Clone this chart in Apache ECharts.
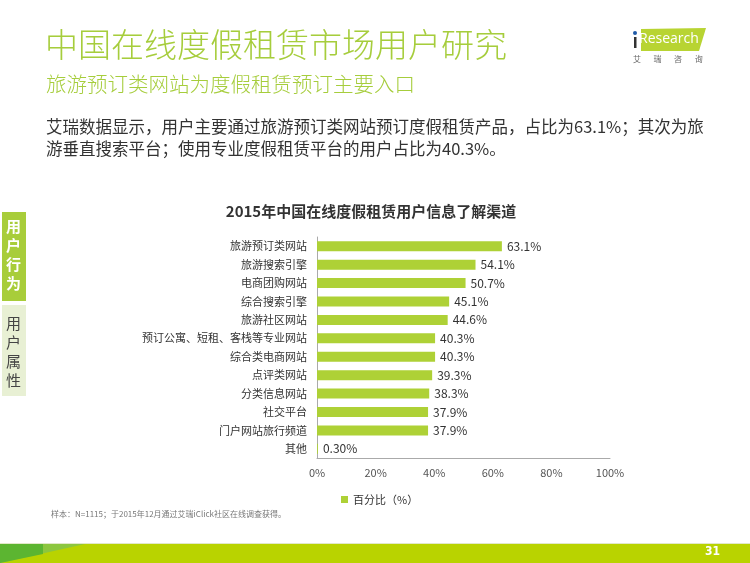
<!DOCTYPE html>
<html>
<head>
<meta charset="utf-8">
<script src="https://cdn.jsdelivr.net/npm/echarts@6/dist/echarts.min.js"></script>
<style>html,body{margin:0;padding:0;background:#fff}#c{width:750px;height:563px}</style>
</head>
<body>
<div id="c"></div>
<script>
var categories = ['旅游预订类网站','旅游搜索引擎','电商团购网站','综合搜索引擎','旅游社区网站','预订公寓、短租、客栈等专业网站','综合类电商网站','点评类网站','分类信息网站','社交平台','门户网站旅行频道','其他'];
var values = [63.1, 54.1, 50.7, 45.1, 44.6, 40.3, 40.3, 39.3, 38.3, 37.9, 37.9, 0.3];
var seriesName = '百分比（%）';
var xTicks = [0, 20, 40, 60, 80, 100];

var FONT = '"Noto Sans CJK SC","Microsoft YaHei",sans-serif';
var GREEN = '#aed136';
var chart = echarts.init(document.getElementById('c'));
chart.setOption({
  backgroundColor: '#fff',
  animation: false,
  textStyle: {fontFamily: FONT},
  title: {
    text: '2015年中国在线度假租赁用户信息了解渠道',
    left: 366, top: 199, textAlign: 'center',
    textStyle: {fontSize: 15, fontWeight: 'bold', color: '#333', fontFamily: FONT}
  },
  legend: {
    data: [seriesName], left: 336, top: 489,
    itemWidth: 7, itemHeight: 7, itemGap: 4, icon: 'rect',
    textStyle: {fontSize: 11, color: '#333', fontFamily: FONT}
  },
  grid: {left: 317, right: 140, top: 237, bottom: 105, containLabel: false},
  xAxis: {
    type: 'value', min: xTicks[0], max: xTicks[xTicks.length - 1], interval: 20,
    axisLine: {show: true, lineStyle: {color: '#aaa'}},
    axisTick: {show: false},
    splitLine: {show: false},
    axisLabel: {formatter: '{value}%', fontSize: 11, color: '#555', margin: 9, fontFamily: FONT}
  },
  yAxis: {
    type: 'category', data: categories, inverse: true,
    axisLine: {show: true, lineStyle: {color: '#aaa'}},
    axisTick: {show: false},
    axisLabel: {fontSize: 11, color: '#333', margin: 10, fontFamily: FONT}
  },
  series: [{
    name: seriesName, type: 'bar', data: values, barWidth: 10,
    itemStyle: {color: GREEN},
    label: {
      show: true, position: 'right', distance: 5, fontSize: 12, color: '#333', fontFamily: FONT,
      formatter: function (p) { return (p.value < 1 ? p.value.toFixed(2) : p.value.toFixed(1)) + '%'; }
    }
  }],
  graphic: [
    {type: 'text', left: 45, top: 28, style: {text: '中国在线度假租赁市场用户研究', fontSize: 33, fontWeight: 300, fill: '#a6cd3c', fontFamily: FONT}},
    {type: 'text', left: 46, top: 74, style: {text: '旅游预订类网站为度假租赁预订主要入口', fontSize: 20.5, fontWeight: 300, fill: '#a6cd3c', fontFamily: FONT}},
    {type: 'text', left: 46, top: 116, style: {text: '艾瑞数据显示，用户主要通过旅游预订类网站预订度假租赁产品，占比为63.1%；其次为旅\n游垂直搜索平台；使用专业度假租赁平台的用户占比为40.3%。', fontSize: 16.5, lineHeight: 22, fill: '#333', fontFamily: FONT}},
    // logo
    {type: 'polygon', shape: {points: [[641, 29], [706, 28], [699, 51], [641, 51]]}, style: {fill: '#b8d432'}},
    {type: 'circle', shape: {cx: 635, cy: 33, r: 2}, style: {fill: '#1f5aa8'}},
    {type: 'rect', shape: {x: 634, y: 37, width: 2.5, height: 11}, style: {fill: '#333'}},
    {type: 'text', left: 639, top: 32, style: {text: 'Research', fontSize: 14, fill: '#fff', fontFamily: '"Open Sans",sans-serif'}},
    {type: 'text', left: 633, top: 55, style: {text: '艾       瑞       咨       询', fontSize: 8, fill: '#666', fontFamily: FONT}},
    // sidebar
    {type: 'rect', shape: {x: 2, y: 212, width: 24, height: 89}, style: {fill: '#a8cd3a'}},
    {type: 'text', left: 6, top: 217, style: {text: '用\n户\n行\n为', fontSize: 15, lineHeight: 19, fill: '#fff', fontWeight: 'bold', fontFamily: FONT}},
    {type: 'rect', shape: {x: 2, y: 305, width: 24, height: 91}, style: {fill: '#e8f0d4'}},
    {type: 'text', left: 6, top: 314, style: {text: '用\n户\n属\n性', fontSize: 15, lineHeight: 19, fill: '#444', fontFamily: FONT}},
    // note
    {type: 'text', left: 51, top: 510, style: {text: '样本：N=1115；于2015年12月通过艾瑞iClick社区在线调查获得。', fontSize: 8, fill: '#777', fontFamily: FONT}},
    // footer
    {type: 'rect', shape: {x: 0, y: 543, width: 750, height: 1}, style: {fill: '#e2e8c8'}},
    {type: 'rect', shape: {x: 0, y: 544, width: 750, height: 19}, style: {fill: '#b9d300'}},
    {type: 'polygon', shape: {points: [[0, 544], [85, 544], [0, 563]]}, style: {fill: '#8cc63f'}},
    {type: 'polygon', shape: {points: [[0, 544], [43, 544], [43, 554], [0, 563]]}, style: {fill: '#5cb531'}},
    {type: 'text', left: 705, top: 546, style: {text: '31', fontSize: 12, fontWeight: 'bold', fill: '#fff', fontFamily: '"DejaVu Sans Condensed",sans-serif'}}
  ]
});
</script>
</body>
</html>
